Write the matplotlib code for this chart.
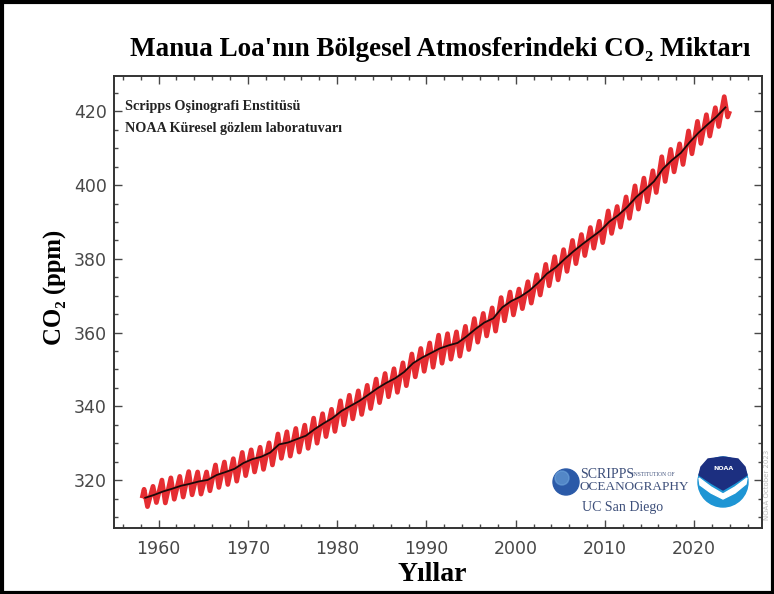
import matplotlib
matplotlib.use("Agg")
import matplotlib.pyplot as plt
from matplotlib.patches import Circle, Rectangle, Polygon
from matplotlib.ticker import MultipleLocator

# ---- data ----
years = list(range(1958, 2024))
annual_mean = [315.2, 315.98, 316.91, 317.64, 318.45, 318.99, 319.62, 320.04, 321.37, 322.18,
               323.05, 324.62, 325.68, 326.32, 327.46, 329.68, 330.19, 331.12, 332.03, 333.84,
               335.41, 336.84, 338.76, 340.12, 341.48, 343.15, 344.87, 346.35, 347.61, 349.31,
               351.69, 353.20, 354.45, 355.70, 356.54, 357.21, 358.96, 360.97, 362.74, 363.88,
               366.84, 368.54, 369.71, 371.32, 373.45, 375.98, 377.70, 379.98, 382.09, 384.02,
               385.83, 387.64, 390.10, 391.85, 394.06, 396.74, 398.81, 401.01, 404.41, 406.76,
               408.72, 411.66, 414.24, 416.45, 418.56, 421.08]
may_peak = [317.5, 318.3, 320.0, 320.6, 321.0, 322.3, 322.2, 322.2, 324.1, 324.9,
            325.8, 327.5, 328.2, 328.9, 330.1, 332.5, 333.1, 334.0, 334.9, 336.8,
            338.0, 339.2, 341.5, 343.0, 344.2, 345.7, 347.4, 348.9, 350.2, 351.8,
            354.2, 355.7, 357.2, 359.3, 359.7, 360.2, 361.7, 363.8, 365.2, 366.7,
            369.5, 371.0, 371.8, 373.8, 375.7, 378.5, 380.6, 382.5, 385.0, 386.6,
            388.5, 390.2, 393.0, 394.2, 396.8, 399.8, 401.9, 403.9, 407.7, 409.7,
            411.2, 414.7, 417.3, 419.1, 421.0, 424.0]
autumn_low = [312.8, 313.9, 313.8, 314.8, 315.4, 316.0, 316.2, 317.1, 318.0, 318.8,
              319.7, 321.2, 322.2, 322.9, 324.1, 325.9, 326.5, 327.6, 328.6, 330.0,
              331.8, 333.2, 335.0, 336.6, 337.8, 339.4, 341.0, 342.6, 343.8, 345.6,
              348.0, 349.5, 350.6, 351.7, 352.8, 353.6, 355.4, 357.4, 359.1, 360.4,
              363.2, 364.8, 366.5, 368.0, 370.2, 372.7, 374.3, 376.6, 378.7, 380.9,
              382.9, 384.4, 386.9, 388.6, 391.0, 393.5, 395.5, 398.0, 401.0, 403.6,
              405.6, 408.5, 411.3, 413.3, 415.9, 418.5]
first_month = (1958.2, 315.7)
last_month = (2023.9, 419.5)

x_ticks = [1960, 1970, 1980, 1990, 2000, 2010, 2020]
y_ticks = [320, 340, 360, 380, 400, 420]

title = "Manua Loa'nın Bölgesel Atmosferindeki CO\u2082 Miktarı"
ylabel = "CO\u2082 (ppm)"
xlabel = "Yıllar"
note_lines = ["Scripps Oşinografi Enstitüsü", "NOAA Küresel gözlem laboratuvarı"]

# ---- build the seasonal red line ----
rx = [first_month[0]]
ry = [first_month[1]]
for y, p, t in zip(years, may_peak, autumn_low):
    rx += [y + 0.37, y + 0.75]
    ry += [p, t]
rx.append(last_month[0])
ry.append(last_month[1])
bx = [y + 0.5 for y in years]

serif = ['Liberation Serif', 'DejaVu Serif']

fig = plt.figure(figsize=(7.74, 5.94), dpi=100)
ax = fig.add_axes([114 / 774, 1 - 528 / 594, (762 - 114) / 774, (528 - 76) / 594])

ax.plot(rx, ry, color='#e3161c', lw=3.4, alpha=0.9, solid_joinstyle='round', zorder=2)
ax.plot(bx, annual_mean, color='#1a0a0a', lw=1.3, zorder=3)

ax.set_xlim(1955, 2027.6)
ax.set_ylim(307, 429.6)
ax.set_xticks(x_ticks)
ax.set_yticks(y_ticks)
ax.xaxis.set_minor_locator(MultipleLocator(2))
ax.yaxis.set_minor_locator(MultipleLocator(5))
ax.tick_params(which='both', direction='in', top=True, right=True, colors='#484848',
               labelsize=12.5, width=1.0)
ax.tick_params(axis='y', which='major', length=6, pad=5)
ax.tick_params(axis='x', which='major', length=6, pad=9)
ax.tick_params(which='minor', length=3)
for s in ax.spines.values():
    s.set_color('#333333')
    s.set_linewidth(1.4)

fig.text(55 / 774, 1 - 287 / 594, ylabel, family=serif, fontweight='bold', fontsize=17.8,
         rotation=90, ha='center', va='center')
ax.set_xlabel(xlabel, family=serif, fontweight='bold', fontsize=20, labelpad=6)
ax.xaxis.set_label_coords((432 - 114) / 648, -0.075)
fig.text(440 / 774, 1 - 50 / 594, title, family=serif, fontweight='bold', fontsize=19.5,
         ha='center', va='center')

for i, line in enumerate(note_lines):
    ax.text(0.017, 0.932 - i * 0.049, line, transform=ax.transAxes, family=serif,
            fontweight='bold', fontsize=10.2, ha='left', va='center', color='#222222')

# ---- logos (approximation) ----
fig.patches.append(Circle((566, 594 - 482), 13, transform=None, color='#2b5aa8', zorder=5))
fig.patches.append(Circle((562, 594 - 478), 7, transform=None, color='#6fa6dd', alpha=0.6, zorder=6))
fig.text(580 / 774, 1 - 474 / 594, "SCRIPPS", family=serif, fontsize=10, color='#3d4f7a', va='center')
fig.text(632 / 774, 1 - 474 / 594, "INSTITUTION OF", family=serif, fontsize=4, color='#3d4f7a', va='center')
fig.text(580 / 774, 1 - 487 / 594, "OCEANOGRAPHY", family=serif, fontsize=9.5, color='#3d4f7a', va='center')
fig.text(582 / 774, 1 - 508 / 594, "UC San Diego", family=serif, fontsize=10, color='#3d4f7a', va='center')

fig.patches.append(Circle((723, 594 - 482), 25, transform=None, color='#1e95d4', zorder=5))
fig.patches.append(Polygon([(699, 594 - 475), (701, 594 - 467), (708, 594 - 459), (723, 594 - 457),
                            (738, 594 - 459), (745, 594 - 467), (747, 594 - 475), (735, 594 - 483),
                            (723, 594 - 490), (711, 594 - 483)],
                           closed=True, transform=None, color='#1c2f80', zorder=6))
fig.patches.append(Polygon([(699, 594 - 478), (711, 594 - 487), (723, 594 - 494), (735, 594 - 487),
                            (747, 594 - 478), (746, 594 - 484), (735, 594 - 493), (723, 594 - 499),
                            (711, 594 - 493), (700, 594 - 485)],
                           closed=True, transform=None, color='white', zorder=7))
fig.text(723 / 774, 1 - 468 / 594, "NOAA", fontsize=4.5, color='white', ha='center', va='center',
         fontweight='bold', zorder=8)

fig.text(767 / 774, 1 - 485 / 594, "NOAA October 2023", fontsize=5, color='#bbbbbb', rotation=90,
         ha='center', va='center')

# outer frame
fig.patches.append(Rectangle((1.5, 1.5), 771, 591, transform=None, fill=False, edgecolor='black', lw=3))

fig.savefig("out.png", dpi=100)
